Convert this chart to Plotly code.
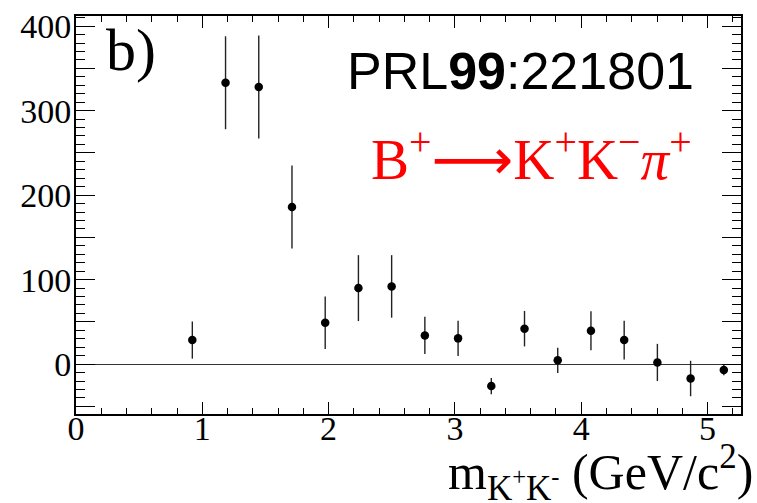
import plotly.graph_objects as go

# data
mass = [0.921, 1.184, 1.447, 1.710, 1.973, 2.236, 2.499, 2.762, 3.025,
        3.288, 3.551, 3.814, 4.077, 4.340, 4.603, 4.866, 5.129]
yields = [28.5, 333, 328, 186, 49, 90, 92, 34, 30.5,
          -26, 42, 4.5, 39.5, 28.5, 2, -17, -7]
errors = [22, 55, 61, 49, 31, 39, 37, 22, 21,
          9.5, 21, 15, 23, 23, 22, 21, 6]

x_tickvals = [0, 1, 2, 3, 4, 5]
x_ticktext = ["0", "1", "2", "3", "4", "5"]

X_RANGE = [0, 5.265]
Y_RANGE = [-59, 412]

L, R, T, B = 76, 16, 8, 89
W, H = 757, 503
pw, ph = W - L - R, H - T - B


def px(x):
    return (x - L) / pw


def py(y):
    return (H - B - y) / ph


fig = go.Figure()
fig.add_trace(go.Scatter(
    x=mass, y=yields, mode="markers",
    marker=dict(color="black", size=8.5),
    error_y=dict(type="data", array=errors, visible=True, width=0,
                 thickness=1.4, color="#222222"),
    showlegend=False, hoverinfo="skip",
))

serif = "Liberation Serif, Times New Roman, serif"
sans = "Liberation Sans, Arial, sans-serif"

fig.update_layout(
    width=W, height=H,
    margin=dict(l=L, r=R, t=T, b=B, pad=0),
    paper_bgcolor="white", plot_bgcolor="white",
    font=dict(family=serif, size=34, color="black"),
    xaxis=dict(
        range=X_RANGE, tickmode="array", tickvals=x_tickvals, ticktext=x_ticktext,
        ticks="inside", ticklen=12, tickwidth=1.2, tickcolor="black",
        showline=True, linecolor="black", linewidth=2, mirror="allticks",
        showgrid=False, zeroline=False,
        minor=dict(dtick=0.2, tick0=0, ticks="inside", ticklen=6, tickwidth=1.2,
                   tickcolor="black", showgrid=False),
        tickfont=dict(family=serif, size=34), ticklabelstandoff=-17,
    ),
    yaxis=dict(
        range=Y_RANGE, tickmode="linear", tick0=0, dtick=50, ticklabelstep=2,
        ticks="inside", ticklen=19, tickwidth=1.2, tickcolor="black",
        showline=True, linecolor="black", linewidth=2, mirror="allticks",
        showgrid=False, zeroline=True, zerolinecolor="#333333", zerolinewidth=1,
        minor=dict(dtick=10, tick0=0, ticks="inside", ticklen=9, tickwidth=1.2,
                   tickcolor="black", showgrid=False),
        tickfont=dict(family=serif, size=34), ticklabelstandoff=-4,
    ),
    annotations=[
        dict(text="b)", xref="paper", yref="paper", x=px(104), y=py(43),
             xanchor="left", yanchor="middle", showarrow=False,
             font=dict(family=serif, size=60, color="black")),
        dict(text="PRL<b>99</b>:221801", xref="paper", yref="paper",
             x=px(696), y=py(64), xanchor="right", yanchor="middle", showarrow=False,
             font=dict(family=sans, size=52, color="black")),
        dict(text="B<sup>+</sup><span style=\"font-family:DejaVu Sans\">⟶</span>"
                  "K<sup>+</sup>K<sup>−</sup><i>π</i><sup>+</sup>",
             xref="paper", yref="paper", x=px(694), y=py(150),
             xanchor="right", yanchor="middle", showarrow=False,
             font=dict(family=serif, size=57, color="red")),
        dict(text="m<sub>K<sup>+</sup>K<sup>-</sup></sub> (GeV/c<sup>2</sup>)",
             xref="paper", yref="paper", x=px(755), y=py(474),
             xanchor="right", yanchor="middle", showarrow=False,
             font=dict(family=serif, size=50, color="black")),
    ],
)

fig.write_html("out.html")
